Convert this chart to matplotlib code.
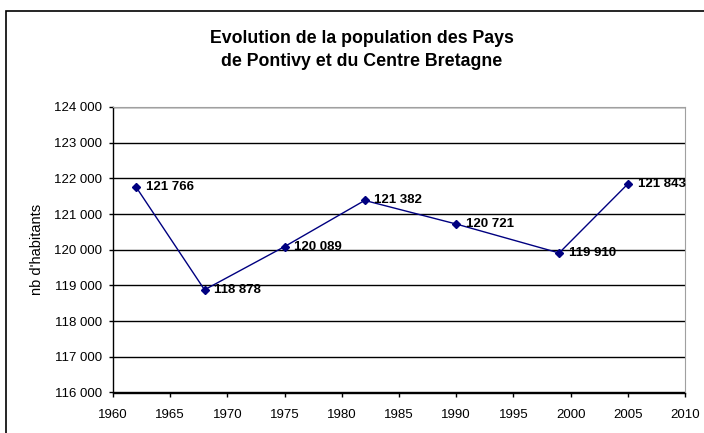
import matplotlib
matplotlib.use("Agg")
import matplotlib.pyplot as plt
from matplotlib.patches import Rectangle

plt.rcParams['font.family'] = ['Liberation Sans', 'DejaVu Sans']

# data
years = [1962, 1968, 1975, 1982, 1990, 1999, 2005]
population = [121766, 118878, 120089, 121382, 120721, 119910, 121843]
y_ticks = list(range(116000, 124001, 1000))
x_ticks = list(range(1960, 2011, 5))

title = "Evolution de la population des Pays\nde Pontivy et du Centre Bretagne"


def fmt(v):
    return f"{v:,}".replace(",", " ")


fig = plt.figure(figsize=(7.04, 4.33), dpi=100)
ax = fig.add_axes([113 / 704, 1 - 392.5 / 433, (685 - 113) / 704, (392.5 - 107) / 433])

ax.plot(years, population, color='#000080', lw=1, marker='D', ms=4.5, zorder=3)
for x, y in zip(years, population):
    ax.annotate(fmt(y), (x, y), xytext=(7, 0), textcoords='offset points',
                ha='left', va='center', fontsize=9.5, fontweight='bold', zorder=4)

ax.set_xlim(1960, 2010)
ax.set_ylim(116000, 124000)
ax.set_xticks(x_ticks)
ax.set_yticks(y_ticks)
ax.set_yticklabels([fmt(v) for v in y_ticks])
ax.tick_params(labelsize=9.5, length=3, width=1, color='black', direction='out')
ax.tick_params(axis='x', pad=9)
ax.tick_params(axis='y', pad=5)
ax.yaxis.grid(True, color='black', lw=1)
ax.set_axisbelow(True)

for s in ['top', 'right']:
    ax.spines[s].set_color('#a0a0a0')
for s in ['left', 'bottom']:
    ax.spines[s].set_color('black')
    ax.spines[s].set_linewidth(1)

ax.set_ylabel("nb d'habitants", fontsize=10.5, labelpad=7)

fig.text(362 / 704, 1 - 50 / 433, title, ha='center', va='center',
         fontsize=12.8, fontweight='bold', linespacing=1.4)

# outer chart border (runs off right and bottom of the image)
fig.patches.append(Rectangle((6 / 704, -0.1), 1.2, 1 - 11 / 433 + 0.1,
                             transform=fig.transFigure, fill=False,
                             edgecolor='black', lw=1.2))

fig.savefig("out.png", dpi=100)
